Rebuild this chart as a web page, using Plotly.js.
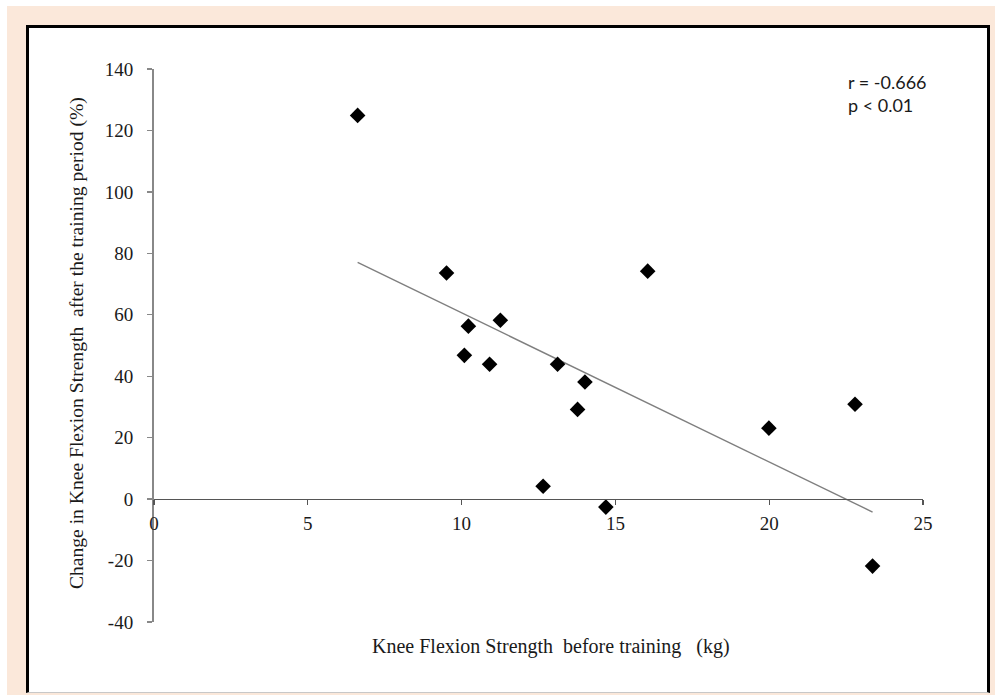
<!DOCTYPE html>
<html>
<head>
<meta charset="utf-8">
<script src="https://cdn.plot.ly/plotly-3.0.1.min.js"></script>
<style>
  html, body { margin: 0; padding: 0; background: #ffffff; width: 995px; height: 695px; overflow: hidden; }
  #beige { position: absolute; left: 7px; top: 6px; width: 988px; height: 689px; background: #fbe8da; }
  #panel { position: absolute; left: 26px; top: 25px; width: 958px; height: 664px; background: #ffffff;
           border-left: 3px solid #000; border-top: 3px solid #000; border-right: 3px solid #000; border-bottom: 1px solid #c8c8c8; }
  #chart { position: absolute; left: 26px; top: 25px; width: 962px; height: 667px; }
</style>
</head>
<body>
<div id="beige"></div>
<div id="panel"></div>
<div id="chart"></div>
<script>
// Knee flexion strength before training (kg)
const strengthBefore = [6.62, 9.51, 16.05, 10.22, 11.26, 10.09, 10.91, 13.12, 14.01, 13.77, 12.65, 14.69, 19.99, 22.79, 23.36];
// Change in knee flexion strength after training (%)
const strengthChange = [124.9, 73.6, 74.2, 56.3, 58.2, 46.8, 43.9, 43.9, 38.1, 29.2, 4.2, -2.6, 23.1, 30.9, -21.8];

const xTicks = [0, 5, 10, 15, 20, 25];
const yTicks = [-40, -20, 0, 20, 40, 60, 80, 100, 120, 140];

const xTitle = "Knee Flexion Strength\u00a0 before training\u00a0\u00a0 (kg)";
const yTitle = "Change in Knee Flexion Strength\u00a0 after the training period (%)";
const statsText = "r = -0.666<br>p < 0.01";

// least-squares regression line from the data
const n = strengthBefore.length;
const mx = strengthBefore.reduce((a, b) => a + b, 0) / n;
const my = strengthChange.reduce((a, b) => a + b, 0) / n;
let sxy = 0, sxx = 0;
for (let i = 0; i < n; i++) {
  sxy += (strengthBefore[i] - mx) * (strengthChange[i] - my);
  sxx += (strengthBefore[i] - mx) ** 2;
}
const slope = sxy / sxx;
const intercept = my - slope * mx;
const xMin = Math.min(...strengthBefore), xMax = Math.max(...strengthBefore);
const fitX = [xMin, xMax];
const fitY = fitX.map(v => intercept + slope * v);

const serif = "Liberation Serif, Times New Roman, serif";
const textColor = "#1a1a1a";

const traces = [
  {
    x: fitX, y: fitY, type: "scatter", mode: "lines",
    line: { color: "#7f7f7f", width: 1.4 }, hoverinfo: "skip", showlegend: false
  },
  {
    x: strengthBefore, y: strengthChange, type: "scatter", mode: "markers",
    marker: { symbol: "diamond", color: "#000000", size: 12, line: { width: 0 } },
    showlegend: false
  }
];

const layout = {
  width: 962, height: 667,
  margin: { l: 128, r: 65, t: 44, b: 70 },
  paper_bgcolor: "rgba(0,0,0,0)",
  plot_bgcolor: "rgba(0,0,0,0)",
  font: { family: serif, size: 19, color: textColor },
  showlegend: false,
  xaxis: {
    range: [0, 25], tickvals: xTicks, ticktext: xTicks.map(String),
    showgrid: false, zeroline: false,
    showline: true, linecolor: "#555", linewidth: 1.3,
    ticks: "outside", ticklen: 5, tickcolor: "#555", tickwidth: 1.3,
    anchor: "free", position: 40 / 180, ticklabelstandoff: 2,
    tickfont: { family: serif, size: 19, color: textColor }, fixedrange: true
  },
  yaxis: {
    range: [-40, 140], tickvals: yTicks, ticktext: yTicks.map(String),
    showgrid: false, zeroline: false,
    showline: true, linecolor: "#888", linewidth: 2,
    ticks: "outside", ticklen: 5, tickcolor: "#888", tickwidth: 1.3,
    ticklabelstandoff: 10, domain: [0, 1],
    tickfont: { family: serif, size: 19, color: textColor }, fixedrange: true
  },
  annotations: [
    {
      text: xTitle, xref: "paper", yref: "paper", x: 0.516, y: -0.045,
      xanchor: "center", yanchor: "middle", showarrow: false,
      font: { family: serif, size: 20, color: textColor }
    },
    {
      text: yTitle, xref: "paper", yref: "paper", x: -0.1, y: 0.5045,
      xanchor: "center", yanchor: "middle", showarrow: false, textangle: -90,
      font: { family: serif, size: 19.6, color: textColor }
    },
    {
      text: statsText, xref: "paper", yref: "paper", x: 0.9, y: 1.0,
      xanchor: "left", yanchor: "top", align: "left", showarrow: false,
      font: { family: "Lato, Open Sans, sans-serif", size: 18, color: textColor }
    }
  ]
};

Plotly.newPlot("chart", traces, layout, { staticPlot: true, displayModeBar: false });
</script>
</body>
</html>
